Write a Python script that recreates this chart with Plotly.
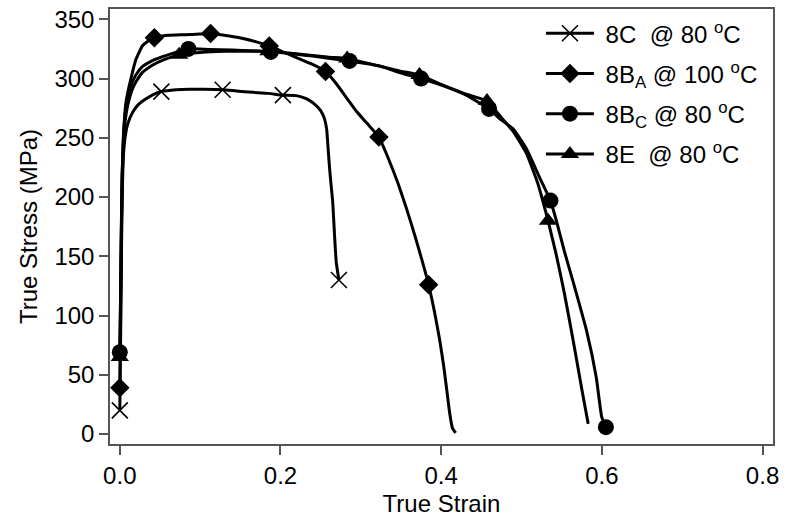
import plotly.graph_objects as go

# ---- 8C tested at 80 C ----
c8_strain = [0.000, 0.001, 0.002, 0.003, 0.0045, 0.0069, 0.010, 0.016, 0.023, 0.0326,
             0.045, 0.0517, 0.070, 0.0866, 0.105, 0.128, 0.145, 0.1655, 0.185, 0.203,
             0.2196, 0.232, 0.242, 0.250, 0.2548, 0.2575, 0.259, 0.261, 0.263, 0.265,
             0.2675, 0.2694, 0.2727]
c8_stress = [20, 80, 150, 200, 235, 252, 262, 271.5, 278, 283,
             287.5, 289, 290.5, 291, 291, 290.6, 289.5, 288.4, 287.5, 286,
             285.6, 283, 278.6, 273, 266, 257, 243.7, 225, 210, 196,
             165, 145, 130]
c8_mark_strain = [0.000, 0.0517, 0.128, 0.203, 0.2727]
c8_mark_stress = [20, 289, 290.6, 286, 130]

# ---- 8B_A tested at 100 C ----
ba_strain = [0.000, 0.001, 0.002, 0.003, 0.0045, 0.0077, 0.0118, 0.016, 0.020, 0.028,
             0.035, 0.043, 0.060, 0.080, 0.100, 0.113, 0.130, 0.149, 0.170, 0.186,
             0.205, 0.222, 0.240, 0.256, 0.269, 0.282, 0.295, 0.308, 0.3225, 0.334,
             0.346, 0.357, 0.367, 0.376, 0.3844, 0.392, 0.398, 0.403, 0.407, 0.4106,
             0.414, 0.418]
ba_stress = [39, 100, 170, 220, 252, 280, 294, 306, 316, 327.5,
             331.5, 334.4, 336.5, 337, 337.5, 338, 336.5, 334.4, 331, 327.5,
             322, 317, 312, 306, 296, 284, 272, 262, 250.7, 233,
             212, 190, 168, 147, 125.9, 102, 80, 58, 37, 17.6,
             5, 1]
ba_mark_strain = [0.000, 0.043, 0.113, 0.186, 0.256, 0.3225, 0.3844]
ba_mark_stress = [39, 334.4, 338, 327.5, 306, 250.7, 125.9]

# ---- 8B_C tested at 80 C ----
bc_strain = [0.000, 0.001, 0.002, 0.003, 0.0045, 0.007, 0.010, 0.015, 0.020, 0.028,
             0.040, 0.060, 0.0854, 0.110, 0.140, 0.165, 0.188, 0.199, 0.220, 0.240,
             0.262, 0.286, 0.3234, 0.348, 0.375, 0.402, 0.431, 0.4596, 0.473, 0.4895,
             0.506, 0.523, 0.536, 0.5436, 0.553, 0.564, 0.581, 0.593, 0.5997, 0.605]
bc_stress = [69, 120, 180, 220, 250, 272, 285, 296, 303, 310,
             315, 320, 325, 324.5, 324, 323.5, 322.5, 322, 320.5, 319,
             317, 314.9, 310.7, 305, 300, 294, 286, 274.4, 266, 257.6,
             241, 215.7, 197, 179.5, 155, 129, 87, 48, 14.7, 5.8]
bc_mark_strain = [0.000, 0.0854, 0.188, 0.286, 0.375, 0.4596, 0.536, 0.605]
bc_mark_stress = [69, 325, 322.5, 314.9, 300, 274.4, 197, 5.8]

# ---- 8E tested at 80 C ----
e8_strain = [0.000, 0.001, 0.002, 0.003, 0.0045, 0.007, 0.010, 0.015, 0.020, 0.028,
             0.040, 0.055, 0.074, 0.100, 0.130, 0.155, 0.185, 0.210, 0.240, 0.260,
             0.283, 0.320, 0.348, 0.373, 0.400, 0.430, 0.457, 0.475, 0.490, 0.506,
             0.520, 0.533, 0.543, 0.553, 0.564, 0.575, 0.583]
e8_stress = [65, 115, 175, 215, 245, 266, 278, 290, 297, 305,
             311, 316, 320, 322, 323, 323, 323, 321.5, 319.5, 318,
             317, 311, 306.5, 303, 295, 287, 281, 267, 255, 237,
             212, 180, 152, 120, 80, 38, 8.6]
e8_mark_strain = [0.000, 0.074, 0.185, 0.283, 0.373, 0.457, 0.533]
e8_mark_stress = [65, 320, 323, 317, 303, 281, 180]

FONT = "Liberation Sans, Arial"
NB = "\u00a0"

series = [
    (NB + "8C" + NB + " @ 80 <sup>o</sup>C", c8_strain, c8_stress, c8_mark_strain, c8_mark_stress,
     dict(symbol="x-thin", size=16, line=dict(width=1.6, color="black"), color="black")),
    (NB + "8B<sub>A</sub> @ 100 <sup>o</sup>C", ba_strain, ba_stress, ba_mark_strain, ba_mark_stress,
     dict(symbol="diamond", size=15, color="black", line=dict(width=0))),
    (NB + "8B<sub>C</sub> @ 80 <sup>o</sup>C", bc_strain, bc_stress, bc_mark_strain, bc_mark_stress,
     dict(symbol="circle", size=16, color="black", line=dict(width=0))),
    (NB + "8E" + NB + " @ 80 <sup>o</sup>C", e8_strain, e8_stress, e8_mark_strain, e8_mark_stress,
     dict(symbol="triangle-up", size=16, color="black", line=dict(width=0))),
]

fig = go.Figure()
for i, (name, xs, ys, mx, my, mk) in enumerate(series):
    fig.add_trace(go.Scatter(x=xs, y=ys, mode="lines", showlegend=False,
                             line=dict(color="black", width=3, shape="spline", smoothing=0.4),
                             hoverinfo="skip"))
    fig.add_trace(go.Scatter(x=mx, y=my, mode="markers", showlegend=False,
                             marker=mk, cliponaxis=False))
    # legend entry: line with its marker
    fig.add_trace(go.Scatter(x=[None], y=[None], mode="lines+markers", name=name,
                             legendgroup=f"g{i}",
                             line=dict(color="black", width=3), marker=mk))

axis_common = dict(showline=True, linecolor="#555", linewidth=1.5, mirror=True,
                   ticks="outside", ticklen=9, tickwidth=1.5, tickcolor="#555",
                   showgrid=False, zeroline=False,
                   tickfont=dict(family=FONT, size=24, color="black"))

fig.update_layout(
    width=793, height=522,
    margin=dict(l=110, r=20, t=6, b=78),
    paper_bgcolor="white", plot_bgcolor="white",
    font=dict(family=FONT, size=24, color="black"),
    xaxis=dict(range=[-0.0122, 0.813], tickvals=[0.0, 0.2, 0.4, 0.6, 0.8],
               ticktext=["0.0", "0.2", "0.4", "0.6", "0.8"],
               title=dict(text="True Strain", font=dict(size=24), standoff=8),
               **axis_common),
    yaxis=dict(range=[-8.4, 358.7], tickvals=[0, 50, 100, 150, 200, 250, 300, 350],
               title=dict(text="True Stress (MPa)", font=dict(size=24), standoff=10),
               **axis_common),
    legend=dict(x=0.650, y=0.995, xanchor="left", yanchor="top",
                bgcolor="rgba(0,0,0,0)", itemwidth=48,
                traceorder="grouped", tracegroupgap=6,
                font=dict(family=FONT, size=24, color="black")),
    showlegend=True,
)

fig.write_html("out.html")
